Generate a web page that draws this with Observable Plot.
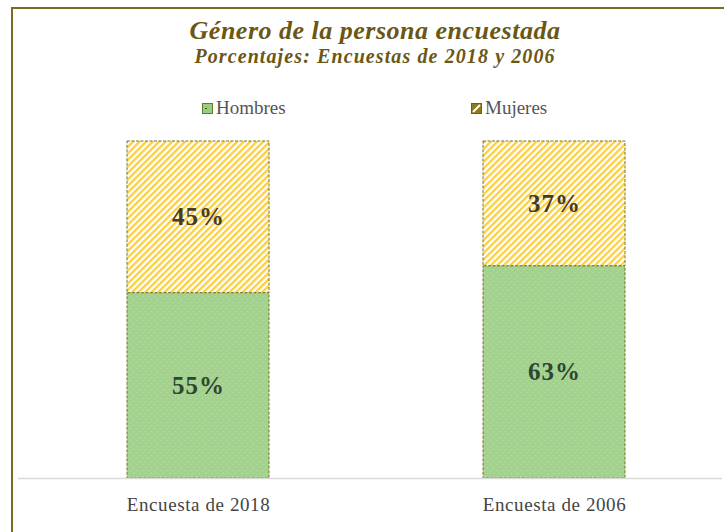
<!DOCTYPE html>
<html><head><meta charset="utf-8">
<script src="https://cdn.jsdelivr.net/npm/d3@7"></script>
<script src="https://cdn.jsdelivr.net/npm/@observablehq/plot@0.6"></script>
<style>
body{margin:0;background:#fff;width:724px;height:532px;overflow:hidden;position:relative;font-family:"Liberation Serif",serif;}
#frame{position:absolute;left:11px;top:7px;width:800px;height:600px;border-top:2px solid #7d6a22;border-left:2px solid #7d6a22;}
#title{position:absolute;left:0;width:750px;top:16px;text-align:center;font-weight:bold;font-style:italic;font-size:26px;letter-spacing:0.5px;color:#6b5714;}
#subtitle{position:absolute;left:0;width:750px;top:45px;text-align:center;font-weight:bold;font-style:italic;font-size:20px;letter-spacing:1.1px;color:#6b5714;}
.leg{position:absolute;top:97px;font-size:19px;color:#555;display:flex;align-items:center;}
.leg svg{margin-right:3px;}
#chart{position:absolute;left:0;top:130px;}
</style></head>
<body>
<div id="frame"></div>
<div id="title">Género de la persona encuestada</div>
<div id="subtitle">Porcentajes: Encuestas de 2018 y 2006</div>
<div class="leg" style="left:202px"><svg width="11" height="11"><rect x="0.5" y="0.5" width="10" height="10" fill="#9ccb84" stroke="#5d7f2a"/><rect x="3" y="5" width="2" height="1" fill="#3d5a1a"/></svg>Hombres</div>
<div class="leg" style="left:471px"><svg width="11" height="11"><rect x="0.5" y="0.5" width="10" height="10" fill="#8f7d1c" stroke="#6f6010"/><path d="M2,9 L9,2" stroke="#fff" stroke-width="2"/></svg>Mujeres</div>
<div id="chart"></div>
<script>
const categories = ["Encuesta de 2018", "Encuesta de 2006"];
const series = ["Hombres", "Mujeres"];
const hombres = [55, 63];
const mujeres = [45, 37];

const data = [];
categories.forEach((c, i) => {
  data.push({cat: c, series: "Hombres", value: hombres[i]});
  data.push({cat: c, series: "Mujeres", value: mujeres[i]});
});

const plot = Plot.plot({
  width: 724,
  height: 402,
  marginTop: 11,
  marginBottom: 54,
  marginLeft: 30,
  marginRight: 2,
  style: {fontFamily: "Liberation Serif, serif", background: "transparent"},
  x: {domain: categories, paddingInner: 0.6, paddingOuter: 0.27, label: null, tickSize: 0, tickPadding: 19},
  y: {domain: [0, 100], axis: null},
  color: {domain: series, range: ["url(#pH)", "url(#pM)"]},
  marks: [
    Plot.barY(data, Plot.stackY({x: "cat", y: "value", z: "series", fill: "series", order: series, stroke: "#7a7420", strokeWidth: 1, strokeDasharray: "3,1.5"})),
    Plot.ruleY([0], {stroke: "#d9d9d9", strokeWidth: 1.5, insetLeft: -12}),
    Plot.text(data, Plot.stackY({x: "cat", y: "value", z: "series", order: series, text: d => d.series === "Hombres" ? d.value + "%" : null, fill: "#2f4634", fontSize: 25, fontWeight: "bold"})),
    Plot.text(data, Plot.stackY({x: "cat", y: "value", z: "series", order: series, text: d => d.series === "Mujeres" ? d.value + "%" : null, fill: "#45392c", fontSize: 25, fontWeight: "bold"}))
  ]
});

const defs = `<defs>
<pattern id="pM" width="4.6" height="4.6" patternUnits="userSpaceOnUse" patternTransform="rotate(45)">
<rect width="4.6" height="4.6" fill="#ffffff"/><rect width="2.3" height="4.6" fill="#fccf3e"/></pattern>
<pattern id="pH" width="6" height="6" patternUnits="userSpaceOnUse">
<rect width="6" height="6" fill="#a2d28d"/><rect x="1" y="1" width="1.2" height="1.2" fill="#b8dca5"/><rect x="4" y="4" width="1.2" height="1.2" fill="#b8dca5"/></pattern>
</defs>`;
plot.insertAdjacentHTML("afterbegin", defs);
plot.querySelectorAll("g[aria-label='text'] text").forEach(t => t.setAttribute("letter-spacing", "1"));
const xl = plot.querySelector("g[aria-label='x-axis tick label']");
if (xl) { xl.setAttribute("font-size", "19"); xl.setAttribute("fill", "#444"); xl.setAttribute("letter-spacing", "0.6"); }
document.getElementById("chart").appendChild(plot);
</script>
</body></html>
